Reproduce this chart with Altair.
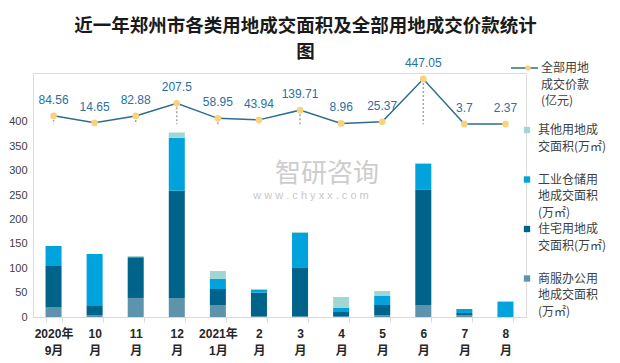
import altair as alt
import pandas as pd

# ---- data ----
months = ["2020年\n9月", "10\n月", "11\n月", "12\n月", "2021年\n1月", "2\n月",
          "3\n月", "4\n月", "5\n月", "6\n月", "7\n月", "8\n月"]
price = [84.56, 14.65, 82.88, 207.5, 58.95, 43.94, 139.71, 8.96, 25.37, 447.05, 3.7, 2.37]
commercial = [20.5, 4, 39, 39, 24.6, 2, 2, 1, 4, 24.6, 4, 0]
residential = [84, 18.5, 82, 219.5, 32.8, 48, 98.5, 9.3, 20.6, 236, 4.2, 0]
industrial = [41, 106.6, 2, 108.7, 20.6, 5.4, 71.8, 8.2, 18.4, 53.3, 8.2, 30.8]
other = [0, 0, 2, 11, 16.4, 2, 2, 22.5, 10.3, 2, 0, 2]

# series, bottom of the stack first; each name is given as its legend lines
series_lines = [
    ["商服办公用", "地成交面积", "(万㎡)"],
    ["住宅用地成", "交面积(万㎡)"],
    ["工业仓储用", "地成交面积", "(万㎡)"],
    ["其他用地成", "交面积(万㎡)"],
]
series_values = [commercial, residential, industrial, other]
series_colors = ["#5E94AB", "#00638A", "#00A3DC", "#A1D6D3"]
line_lines = ["全部用地", "成交价款", "(亿元)"]
line_color = "#2B6E8E"
dot_color = "#F9D27C"
y_ticks = [0, 50, 100, 150, 200, 250, 300, 350, 400]

title_lines = ["近一年郑州市各类用地成交面积及全部用地成交价款统计", "图"]

FONT = "Liberation Sans, Noto Sans CJK SC"
CJK = "Noto Sans CJK SC"

# legend domain: one entry per text line (continuation lines get no swatch)
legend_domain, legend_range, seen = [], [], set()
for lines, col in zip(series_lines[::-1], series_colors[::-1]):
    padded = lines + [" "] * (3 - len(lines))
    for k, txt in enumerate(padded):
        key = txt
        while key in seen:
            key = key + "\u200b"
        seen.add(key)
        legend_domain.append(key)
        legend_range.append(col if k == 0 else "transparent")
series_keys = [lines[0] for lines in series_lines]

rows = []
for j, (nm, vals) in enumerate(zip(series_keys, series_values)):
    for m, v in zip(months, vals):
        rows.append({"month": m, "series": nm, "value": v, "ord": j})
bars_df = pd.DataFrame(rows)

line_df = pd.DataFrame({
    "month": months,
    "price": price,
    "lbl": [str(p) for p in price],
    "legend": [line_lines[0]] * len(months),
    "dot": ["\u00a0"] * len(months),
})

xscale = alt.Scale(paddingInner=0.61, paddingOuter=0.305)
xaxis = alt.Axis(title=None, labelAngle=0, labelExpr="split(datum.label, '\\n')",
                 labelFont=FONT, labelFontSize=12, labelFontWeight="bold",
                 labelColor="#262626", labelLineHeight=17, labelPadding=6,
                 tickBand="extent", tickSize=5, tickColor="#D9D9D9",
                 domainColor="#D9D9D9", grid=False)

bars = alt.Chart(bars_df).mark_bar().encode(
    x=alt.X("month:N", sort=months, scale=xscale, axis=xaxis),
    y=alt.Y("value:Q", stack="zero", scale=alt.Scale(domain=[0, 500], nice=False),
            axis=alt.Axis(title=None, values=y_ticks, grid=False, domain=False,
                          ticks=False, labelFont=FONT, labelFontSize=11,
                          labelColor="#404040", labelPadding=6)),
    color=alt.Color("series:N",
                    scale=alt.Scale(domain=legend_domain, range=legend_range),
                    legend=alt.Legend(title=None, orient="none", legendX=488, legendY=51,
                                      labelFont=CJK, labelFontSize=12, labelColor="#404040",
                                      labelBaseline="middle",
                                      symbolType="square", symbolSize=40,
                                      symbolStrokeWidth=0, labelOffset=5,
                                      rowPadding=4.5, gridAlign="all", padding=0,
                                      labelLimit=200, symbolLimit=0)),
    order=alt.Order("ord:Q"),
)

yline = alt.Y("price:Q", scale=alt.Scale(domain=[-1900, 506], nice=False, zero=False), axis=None)
xline = alt.X("month:N", sort=months, scale=xscale, axis=xaxis)

rules = alt.Chart(line_df).mark_rule(color="#A6A6A6", strokeDash=[2, 2], strokeWidth=1.5).encode(
    x=xline, y=yline, y2=alt.datum(0))

line = alt.Chart(line_df).mark_line(strokeWidth=1.5).encode(
    x=xline, y=yline,
    stroke=alt.Stroke("legend:N",
                      scale=alt.Scale(domain=line_lines,
                                      range=[line_color, "transparent", "transparent"]),
                      legend=alt.Legend(title=None, orient="none", legendX=484, legendY=-12.5,
                                        labelFont=CJK, labelFontSize=12, labelColor="#404040",
                                        labelBaseline="middle",
                                        symbolType="M-2,0H2", symbolSize=182,
                                        symbolStrokeWidth=1.5, labelOffset=9, padding=0,
                                        rowPadding=2.5, gridAlign="all", labelLimit=200)))

points = alt.Chart(line_df).mark_point(filled=True, color=dot_color, size=45, opacity=1).encode(
    x=xline, y=yline,
    shape=alt.Shape("dot:N", scale=alt.Scale(range=["circle"]),
                    legend=alt.Legend(title=None, orient="none", legendX=489, legendY=-11,
                                      symbolSize=30, symbolFillColor=dot_color,
                                      symbolStrokeWidth=0, labelFontSize=12, padding=0)))

labels = alt.Chart(line_df).mark_text(dy=-16, font=FONT, fontSize=12, color="#2A6FA3").encode(
    x=xline, y=yline, text="lbl:N")

wm_df = pd.DataFrame({"t": ["智研咨询"], "u": ["w w w . c h y x x . c o m"]})
wm1 = alt.Chart(wm_df).mark_text(font=CJK, fontSize=26, color="#CDCDCD").encode(
    x=alt.value(294), y=alt.value(101), text="t:N")
wm2 = alt.Chart(wm_df).mark_text(font=FONT, fontSize=11, color="#C8C8C8").encode(
    x=alt.value(278), y=alt.value(123), text="u:N")

chart = alt.layer(
    bars,
    alt.layer(rules, line, points, labels),
    wm1, wm2,
).resolve_scale(y="independent", stroke="independent", shape="independent").properties(
    width=493, height=244,
    title=alt.TitleParams(text=title_lines, font=CJK, fontSize=18.5, fontWeight="bold",
                          color="#1A1A1A", lineHeight=26, anchor="middle", offset=-5, dx=26),
    padding={"left": 0, "top": 9, "right": 5, "bottom": 5},
).configure_view(stroke=None).configure(background="white")

chart.save("out.html", embed_options={"renderer": "svg", "actions": False})
